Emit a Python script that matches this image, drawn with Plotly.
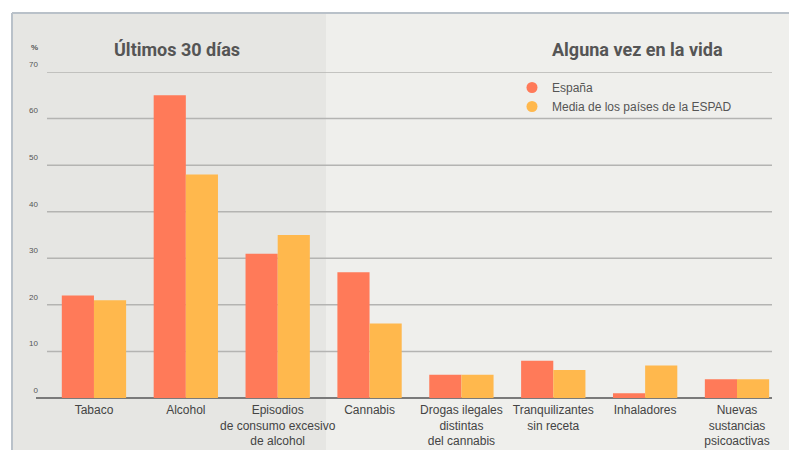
import plotly.graph_objects as go

categories = [
    "Tabaco",
    "Alcohol",
    "Episodios<br>de consumo excesivo<br>de alcohol",
    "Cannabis",
    "Drogas ilegales<br>distintas<br>del cannabis",
    "Tranquilizantes<br>sin receta",
    "Inhaladores",
    "Nuevas<br>sustancias<br>psicoactivas",
]
espana = [22, 65, 31, 27, 5, 8, 1, 4]
media_espad = [21, 48, 35, 16, 5, 6, 7, 4]
series_names = ["España", "Media de los países de la ESPAD"]
y_ticks = [0, 10, 20, 30, 40, 50, 60, 70]
panel_titles = ["Últimos 30 días", "Alguna vez en la vida"]

c_es = "#ff7a59"
c_me = "#ffb84d"

W, H = 789, 450
L, R, T, B = 36, 17, 72, 52

def px_x(p):
    return (p - L) / (W - L - R)

def px_y(p):
    return (H - B - p) / (H - T - B)

fig = go.Figure()
fig.add_trace(go.Bar(x=categories, y=espana, name=series_names[0],
                     marker=dict(color=c_es, line=dict(width=0)), showlegend=False))
fig.add_trace(go.Bar(x=categories, y=media_espad, name=series_names[1],
                     marker=dict(color=c_me, line=dict(width=0)), showlegend=False))
# legend entries with circular symbols
fig.add_trace(go.Scatter(x=[None], y=[None], mode="markers", name=series_names[0],
                         marker=dict(color=c_es, size=11, symbol="circle")))
fig.add_trace(go.Scatter(x=[None], y=[None], mode="markers", name=series_names[1],
                         marker=dict(color=c_me, size=11, symbol="circle")))

shapes = [
    dict(type="rect", xref="paper", yref="paper", x0=px_x(12), x1=px_x(800),
         y0=px_y(460), y1=px_y(13), fillcolor="#efefec", line=dict(width=0), layer="below"),
    dict(type="rect", xref="paper", yref="paper", x0=px_x(12), x1=px_x(326),
         y0=px_y(460), y1=px_y(13), fillcolor="#e6e6e3", line=dict(width=0), layer="below"),
    dict(type="line", xref="paper", yref="paper", x0=px_x(12), x1=px_x(800),
         y0=px_y(13), y1=px_y(13), line=dict(color="#b9c1c9", width=2)),
    dict(type="line", xref="paper", yref="paper", x0=px_x(12), x1=px_x(12),
         y0=px_y(13), y1=px_y(460), line=dict(color="#b9c1c9", width=2)),
]
# horizontal gridlines (start slightly right of the axis start, as in the original)
for v in y_ticks[1:]:
    shapes.append(dict(type="line", xref="paper", yref="y", x0=px_x(47), x1=1,
                       y0=v, y1=v, line=dict(color="#b4b4b2", width=1.5), layer="below"))

title_font = dict(family="Roboto, Liberation Sans, sans-serif", size=18, color="#555555")
annotations = [
    dict(text="<b>%s</b>" % panel_titles[0], xref="paper", yref="paper",
         x=px_x(177), y=px_y(50), xanchor="center", yanchor="middle",
         showarrow=False, font=title_font),
    dict(text="<b>%s</b>" % panel_titles[1], xref="paper", yref="paper",
         x=px_x(637), y=px_y(50), xanchor="center", yanchor="middle",
         showarrow=False, font=title_font),
    dict(text="<b>%</b>", xref="paper", yref="paper", x=px_x(34), y=px_y(48),
         xanchor="center", yanchor="middle",
         showarrow=False, font=dict(family="Liberation Sans", size=8, color="#555555")),
]

fig.update_layout(
    width=W, height=H,
    margin=dict(l=L, r=R, t=T, b=B, pad=0, autoexpand=False),
    paper_bgcolor="white",
    plot_bgcolor="rgba(0,0,0,0)",
    barmode="group",
    bargap=0.3,
    bargroupgap=0,
    shapes=shapes,
    annotations=annotations,
    showlegend=True,
    legend=dict(x=px_x(512), y=px_y(73), xanchor="left", yanchor="top",
                bgcolor="rgba(0,0,0,0)", tracegroupgap=0, itemwidth=30,
                font=dict(family="Liberation Sans, Arial, sans-serif", size=12, color="#555555")),
    xaxis=dict(
        range=[-0.631, 7.381], showgrid=False, ticks="", showline=False,
        tickangle=0, automargin=False, ticklabelstandoff=3,
        tickfont=dict(family="Liberation Sans, Arial, sans-serif", size=12, color="#444444"),
        fixedrange=True,
    ),
    yaxis=dict(
        range=[0, 70], tickvals=y_ticks, ticktext=[str(v) for v in y_ticks],
        showgrid=False,
        zeroline=True, zerolinecolor="#7a7a7a", zerolinewidth=2,
        ticks="", showline=False, ticklabelshift=-8, ticklabelstandoff=-3,
        automargin=False,
        tickfont=dict(family="Liberation Sans", size=8, color="#555555"),
        fixedrange=True,
    ),
)

fig.write_html("out.html")
